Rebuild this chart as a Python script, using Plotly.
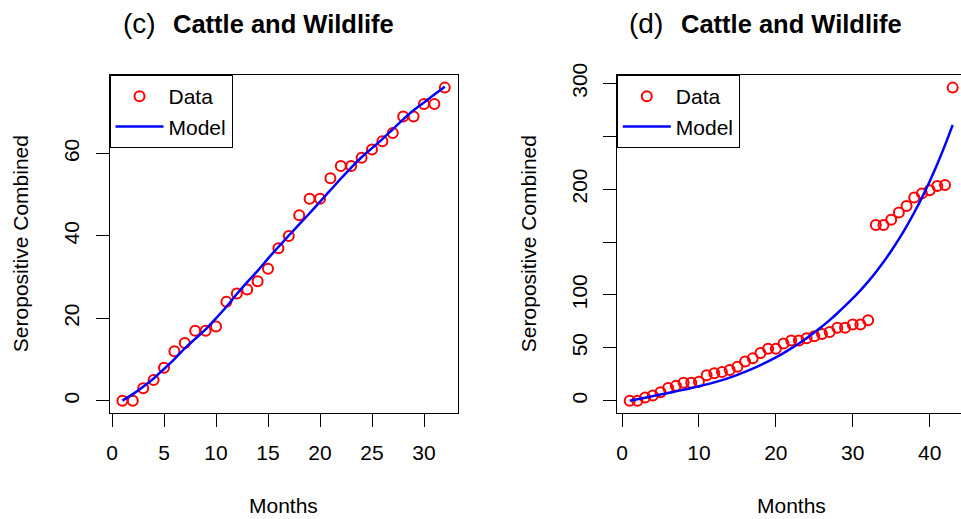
import plotly.graph_objects as go

W, H = 961, 519

# ---- data ----
months_c = list(range(1, 33))
data_c = [0, 0, 3, 5, 8, 12, 14, 17, 17, 18, 24, 26, 27, 29, 32, 37, 40, 45, 49, 49,
          54, 57, 57, 59, 61, 63, 65, 69, 69, 72, 72, 76]
model_c = [0, 1.6, 3.4, 5.4, 7.7, 10.1, 12.7, 15.0, 17.3, 20.0, 22.8, 25.9, 28.8, 31.5,
           34.5, 37.3, 40.1, 42.8, 45.5, 48.3, 51.1, 53.9, 56.6, 59.1, 61.3, 63.5, 65.9,
           68.3, 70.5, 72.4, 74.3, 76.2]

months_d = list(range(1, 44))
data_d = [0, 0, 3, 5, 8, 12, 14, 17, 17, 18, 24, 26, 27, 29, 32, 37, 40, 45, 49, 49,
          54, 57, 57, 59, 61, 63, 65, 69, 69, 72, 72, 76,
          166, 166, 171, 178, 184, 192, 196, 199, 203, 204, 296]
model_d = [0, 1.4, 2.8, 4.3, 5.8, 7.3, 8.8, 10.3, 11.9, 13.6, 15.4, 17.3, 19.4, 21.8,
           24.4, 27.2, 30.3, 33.6, 37.1, 40.9, 45.0, 49.4, 54.1, 59.1, 64.4, 70.1, 76.2,
           82.7, 89.6, 96.7, 104.3, 112.6, 121.5, 131.1, 141.5, 152.7, 164.8, 177.9,
           192.0, 207.3, 223.8, 241.6, 260.8]

xticks_c = [0, 5, 10, 15, 20, 25, 30]
yticks_c = [0, 20, 40, 60]
xticks_d = [0, 10, 20, 30, 40]
yticks_d = [0, 50, 100, 150, 200, 250, 300]
yticklabels_d = ["0", "50", "100", "", "200", "", "300"]

FONT = "Liberation Sans, Arial, Helvetica, sans-serif"
RED = "#FF0000"
BLUE = "#0000FF"

# ---- geometry (pixels) ----
yb, yt = 413.2, 75.1
ydom = [(H - yb) / H, (H - yt) / H]
xdom_c = [109.5 / W, 457.7 / W]
xdom_d = [616.8 / W, 1.0]

fig = go.Figure()

fig.add_trace(go.Scatter(x=months_c, y=data_c, mode="markers", name="Data",
                         marker=dict(symbol="circle-open", size=10, color=RED,
                                     line=dict(width=2, color=RED)),
                         xaxis="x", yaxis="y", legend="legend"))
fig.add_trace(go.Scatter(x=months_c, y=model_c, mode="lines", name="Model",
                         line=dict(color=BLUE, width=2.5, shape="spline"),
                         xaxis="x", yaxis="y", legend="legend"))
fig.add_trace(go.Scatter(x=months_d, y=data_d, mode="markers", name="Data",
                         marker=dict(symbol="circle-open", size=10, color=RED,
                                     line=dict(width=2, color=RED)),
                         xaxis="x2", yaxis="y2", legend="legend2"))
fig.add_trace(go.Scatter(x=months_d, y=model_d, mode="lines", name="Model",
                         line=dict(color=BLUE, width=2.5, shape="spline"),
                         xaxis="x2", yaxis="y2", legend="legend2"))

axis_common = dict(showgrid=False, zeroline=False, showline=True, linecolor="black",
                   linewidth=1, ticks="outside", ticklen=13, tickwidth=1,
                   tickcolor="black", automargin=False,
                   tickfont=dict(family=FONT, size=21, color="black"))

leg_common = dict(xanchor="left", yanchor="top", bgcolor="white",
                  bordercolor="black", borderwidth=1, itemwidth=48,
                  font=dict(family=FONT, size=21, color="black"), tracegroupgap=0)

fig.update_layout(
    width=W, height=H,
    margin=dict(l=0, r=0, t=0, b=0, pad=0, autoexpand=False),
    paper_bgcolor="white", plot_bgcolor="white",
    font=dict(family=FONT, size=21, color="black"),
    xaxis=dict(domain=xdom_c, range=[-0.24, 33.24], tickvals=xticks_c,
               mirror=True, anchor="y", ticklabelstandoff=8, **axis_common),
    yaxis=dict(domain=ydom, range=[-3.04, 79.04], tickvals=yticks_c, tickangle=-90,
               mirror=True, anchor="x", ticklabelstandoff=8, **axis_common),
    xaxis2=dict(domain=xdom_d, range=[-0.68, 44.08], tickvals=xticks_d,
                mirror=True, anchor="y2", ticklabelstandoff=8, **axis_common),
    yaxis2=dict(domain=ydom, range=[-11.84, 307.84], tickvals=yticks_d,
                ticktext=yticklabels_d, tickangle=-90, anchor="x2",
                ticklabelstandoff=7, **axis_common),
    legend=dict(x=xdom_c[0], y=ydom[1], **leg_common),
    legend2=dict(x=xdom_d[0], y=ydom[1], **leg_common),
    showlegend=True,
)

ann = []
for xd, tag in [(xdom_c, "(c)"), (xdom_d, "(d)")]:
    cx = (xd[0] + (xd[1] if tag == "(c)" else 965.6 / W)) / 2
    ann.append(dict(x=cx, y=(H - 24) / H, xref="paper", yref="paper",
                    text="<b>Cattle and Wildlife</b>", showarrow=False,
                    xanchor="center", yanchor="middle",
                    font=dict(family=FONT, size=25.5, color="black")))
    ann.append(dict(x=cx - 126 / W, y=(H - 24) / H, xref="paper", yref="paper",
                    text=tag, showarrow=False, xanchor="right", yanchor="middle",
                    font=dict(family=FONT, size=28, color="black")))
    ann.append(dict(x=cx, y=(H - 505) / H, xref="paper", yref="paper",
                    text="Months", showarrow=False, xanchor="center", yanchor="middle",
                    font=dict(family=FONT, size=21, color="black")))
ann.append(dict(x=20 / W, y=(ydom[0] + ydom[1]) / 2, xref="paper", yref="paper",
                text="Seropositive Combined", showarrow=False, textangle=-90,
                xanchor="center", yanchor="middle",
                font=dict(family=FONT, size=21, color="black")))
ann.append(dict(x=528 / W, y=(ydom[0] + ydom[1]) / 2, xref="paper", yref="paper",
                text="Seropositive Combined", showarrow=False, textangle=-90,
                xanchor="center", yanchor="middle",
                font=dict(family=FONT, size=21, color="black")))
fig.update_layout(annotations=ann)

fig.write_html("out.html")
